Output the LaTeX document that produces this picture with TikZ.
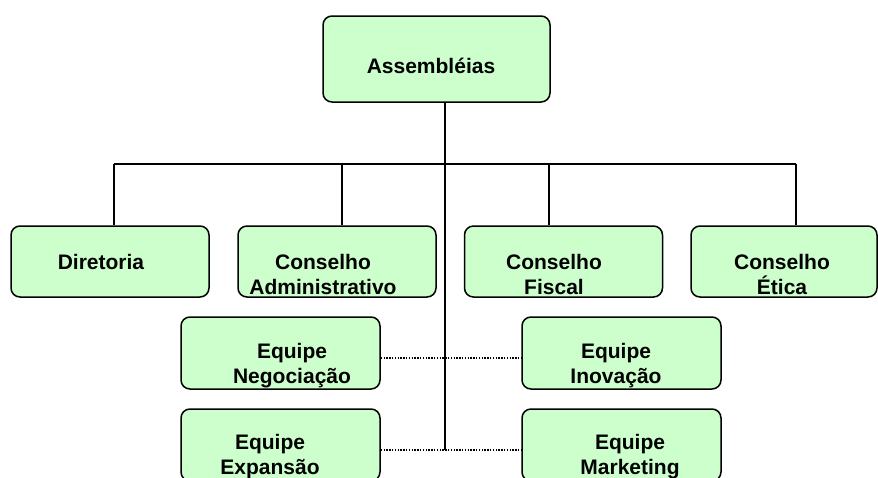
\documentclass[tikz,border=0pt]{standalone}
\usepackage{fontspec}
\setmainfont{Liberation Sans}
\usepackage{xcolor}
\definecolor{boxgreen}{HTML}{CCFFCC}

\begin{document}
\begin{tikzpicture}[x=1pt,y=-1pt,font=\fontsize{21}{25}\selectfont\bfseries,
  box/.style={draw,line width=1.5pt,rounded corners=9pt,fill=boxgreen,inner sep=0pt},
  unit/.style={box,minimum width=198pt,minimum height=71pt},
  team/.style={box,minimum width=199pt,minimum height=72pt},
  txt/.style={align=center,inner sep=0pt},
  ln/.style={line width=1.3pt},
  dots/.style={line width=1.8pt,dash pattern=on 1.4pt off 1.4pt}]
\useasboundingbox (0,0) rectangle (878,477);
% top box
\node[box,minimum width=227pt,minimum height=86pt] (asm) at (436.5,59) {};
% councils
\node[unit] (dir) at (110,261.5) {};
\node[unit] (adm) at (337,261.5) {};
\node[unit] (fis) at (563.5,261.5) {};
\node[unit,minimum width=186pt] (eti) at (784,261.5) {};
% teams
\node[team] (neg) at (280.5,353) {};
\node[team] (ino) at (621.5,353) {};
\node[team] (exp) at (280.5,445) {};
\node[team] (mkt) at (621.5,445) {};
% labels
\node[txt] (asmtxt) at (431,66) {Assembléias};
\node[txt] (dirtxt) at (101,262) {Diretoria};
\node[txt] (admtxt) at (323,274) {Conselho\\Administrativo};
\node[txt] (fistxt) at (554,274) {Conselho\\Fiscal};
\node[txt] (etitxt) at (782,274) {Conselho\\Ética};
\node[txt] (negtxt) at (292,366) {Equipe\\Negociação};
\node[txt] (inotxt) at (616,366) {Equipe\\Inovação};
\node[txt] (exptxt) at (270,457) {Equipe\\Expansão};
\node[txt] (mkttxt) at (630,457) {Equipe\\Marketing};
% bus and drops
\coordinate (b1) at (114,164);
\coordinate (b2) at (342,164);
\coordinate (b3) at (549,164);
\coordinate (b4) at (796,164);
\coordinate (trunk) at (445,450);
\draw[ln] (asm.south -| trunk) -- (trunk);
\draw[ln] (b1) -- (b4);
\draw[ln] (b1) -- (b1 |- dir.north);
\draw[ln] (b2) -- (b2 |- adm.north);
\draw[ln] (b3) -- (b3 |- fis.north);
\draw[ln] (b4) -- (b4 |- eti.north);
% dotted links
\draw[dots] ([yshift=-5pt]neg.east) -- ([yshift=-5pt]ino.west);
\draw[dots] ([yshift=-5pt]exp.east) -- ([yshift=-5pt]mkt.west);
\end{tikzpicture}
\end{document}
